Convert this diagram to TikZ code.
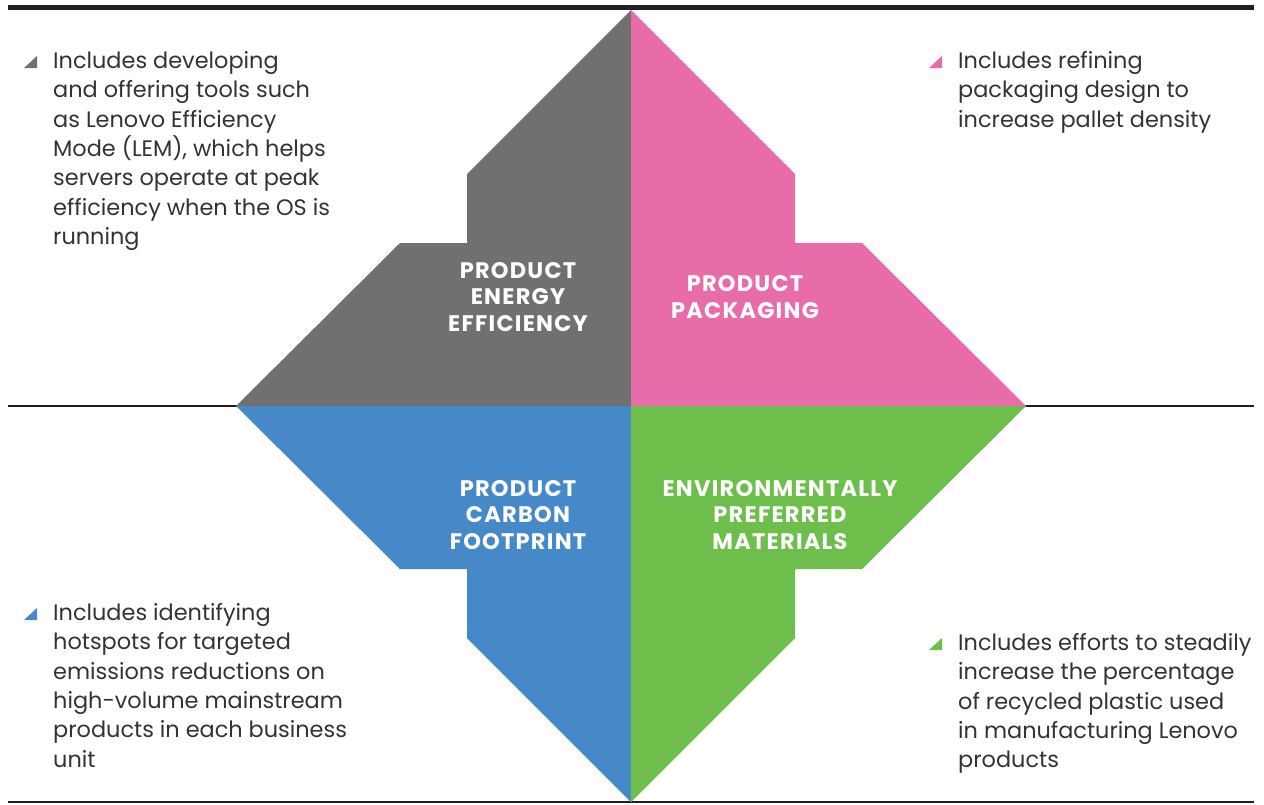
\documentclass[tikz,border=0pt]{standalone}
\usepackage{fontspec}
\setmainfont{Poppins}
\usetikzlibrary{calc}
\definecolor{effgray}{HTML}{6F7170}
\definecolor{packpink}{HTML}{E76CA9}
\definecolor{carbonblue}{HTML}{4689C8}
\definecolor{matgreen}{HTML}{6DBE4B}
\definecolor{textgray}{HTML}{333333}
\definecolor{rulecol}{HTML}{231F20}
\tikzset{
  note/.style={anchor=north west, inner sep=0, align=left, text=textgray,
    font=\fontsize{22.4}{29.4}\selectfont},
  quadlabel/.style={inner sep=0, align=center, text=white,
    font=\fontsize{22.5}{26.5}\selectfont\bfseries\addfontfeatures{LetterSpace=5.5}},
}
% small corner triangle in front of a note
\newcommand{\notemark}[2]{\fill[#2] ($(#1.north west)+(-29,17)$) -- ++(13,0) -- ++(0,-12) -- cycle;}

\begin{document}
\begin{tikzpicture}[x=1pt, y=-1pt]
    \useasboundingbox (0,0) rectangle (1264,804);
    % rules
    \draw [rulecol, line width=5] (8,7) -- (1254,7);
    \draw [rulecol, line width=1.3] (8,406) -- (1254,406);
    \draw [rulecol, line width=1.3] (8,802) -- (1254,802);

    \begin{scope} [shift={(631,406)}]
        \fill [effgray] (0,-396) -- (-164,-232) -- (-164,-163) -- (-231,-163) -- (-395,0) -- (0,0) -- cycle;
    \end{scope}
    \begin{scope} [shift={(631,406)}, xscale=-1]
        \fill [packpink] (0,-396) -- (-164,-232) -- (-164,-163) -- (-231,-163) -- (-395,0) -- (0,0) -- cycle;
    \end{scope}
    \begin{scope} [shift={(631,406)}, yscale=-1]
        \fill [carbonblue] (0,-396) -- (-164,-232) -- (-164,-163) -- (-231,-163) -- (-395,0) -- (0,0) -- cycle;
    \end{scope}
    \begin{scope} [shift={(631,406)}, xscale=-1, yscale=-1]
        \fill [matgreen] (0,-396) -- (-164,-232) -- (-164,-163) -- (-231,-163) -- (-395,0) -- (0,0) -- cycle;
    \end{scope}

    \node [quadlabel] (efflabel) at (518,297) {PRODUCT\\ENERGY\\EFFICIENCY};
    \node [quadlabel] (packlabel) at (745,297) {PRODUCT\\PACKAGING};
    \node [quadlabel] (carbonlabel) at (518,515) {PRODUCT\\CARBON\\FOOTPRINT};
    \node [quadlabel] (matlabel) at (780,515) {ENVIRONMENTALLY\\PREFERRED\\MATERIALS};

    \node [note] (effnote) at (53,51) {Includes developing\\and offering tools such\\as Lenovo Efficiency\\Mode (LEM), which helps\\servers operate at peak\\efficiency when the OS is\\running};
    \node [note] (packnote) at (958,51) {Includes refining\\packaging design to\\increase pallet density};
    \node [note] (carbonnote) at (53,603) {Includes identifying\\hotspots for targeted\\emissions reductions on\\high-volume mainstream\\products in each business\\unit};
    \node [note] (matnote) at (958,633) {Includes efforts to steadily\\increase the percentage\\of recycled plastic used\\in manufacturing Lenovo\\products};

    \notemark{effnote}{effgray}
    \notemark{packnote}{packpink}
    \notemark{carbonnote}{carbonblue}
    \notemark{matnote}{matgreen}
\end{tikzpicture}
\end{document}
